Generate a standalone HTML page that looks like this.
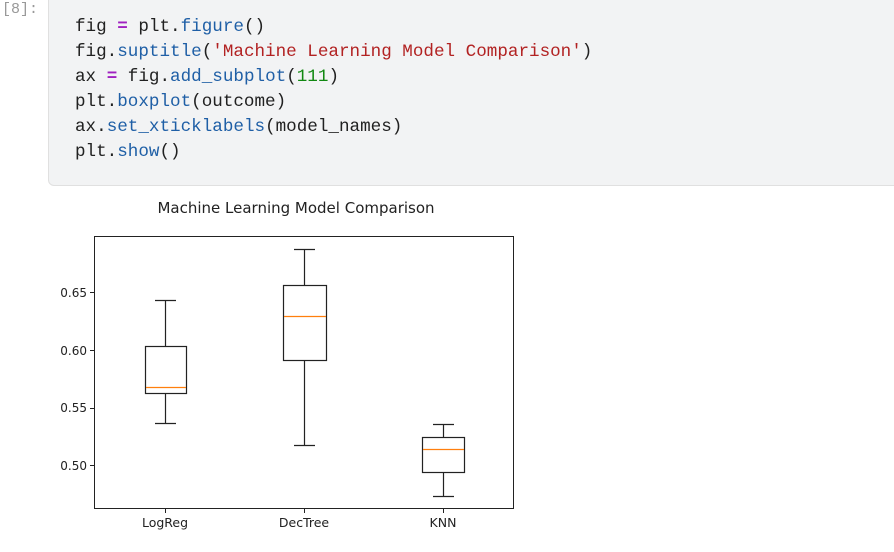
<!DOCTYPE html>
<html><head><style>
body{margin:0;width:894px;height:552px;background:#fff;position:relative;overflow:hidden;font-family:"Liberation Sans",sans-serif}
.prompt{position:absolute;left:2px;top:1px;font:15px "Liberation Mono",monospace;color:#999}
.cell{position:absolute;left:48px;top:-6px;width:860px;height:192px;background:#f2f3f4;border:1px solid #e0e0e0;border-radius:6px;box-sizing:border-box}
pre{position:absolute;left:75px;top:15px;margin:0;font:17.6px/25px "Liberation Mono",monospace;color:#212121}
.f{color:#1f5fa6}.s{color:#b22222}.n{color:#118811}.o{color:#a020c0;font-weight:bold}
</style></head><body>
<div class="prompt">[8]:</div>
<div class="cell"></div>
<pre>fig <span class="o">=</span> plt.<span class="f">figure</span>()
fig.<span class="f">suptitle</span>(<span class="s">'Machine Learning Model Comparison'</span>)
ax <span class="o">=</span> fig.<span class="f">add_subplot</span>(<span class="n">111</span>)
plt.<span class="f">boxplot</span>(outcome)
ax.<span class="f">set_xticklabels</span>(model_names)
plt.<span class="f">show</span>()</pre>
<svg width="894" height="552" style="position:absolute;left:0;top:0" font-family="DejaVu Sans, sans-serif" font-size="12" fill="#222">
<text x="296" y="213" text-anchor="middle" font-size="15">Machine Learning Model Comparison</text>
<rect x="94.5" y="236.5" width="419" height="272" fill="none" stroke="#222" stroke-width="1"/>
<g stroke="#222" stroke-width="1">
<line x1="90" y1="292.5" x2="94" y2="292.5"/><line x1="90" y1="350.5" x2="94" y2="350.5"/>
<line x1="90" y1="408.5" x2="94" y2="408.5"/><line x1="90" y1="465.5" x2="94" y2="465.5"/>
<line x1="165.5" y1="509" x2="165.5" y2="513"/><line x1="304.5" y1="509" x2="304.5" y2="513"/><line x1="443.5" y1="509" x2="443.5" y2="513"/>
</g>
<g font-size="12" text-anchor="end">
<text x="87" y="297">0.65</text><text x="87" y="355">0.60</text><text x="87" y="412">0.55</text><text x="87" y="470">0.50</text>
</g>
<g font-size="12.5" text-anchor="middle">
<text x="165" y="527">LogReg</text><text x="304" y="527">DecTree</text><text x="443" y="527">KNN</text>
</g>
<g stroke="#222" stroke-width="1.2" fill="none">
<rect x="145.5" y="346.5" width="41" height="47"/>
<line x1="165.5" y1="346" x2="165.5" y2="300.5"/><line x1="165.5" y1="394" x2="165.5" y2="423.5"/>
<line x1="155" y1="300.5" x2="176" y2="300.5"/><line x1="155" y1="423.5" x2="176" y2="423.5"/>
<rect x="283.5" y="285.5" width="43" height="75"/>
<line x1="304.5" y1="285" x2="304.5" y2="249.5"/><line x1="304.5" y1="361" x2="304.5" y2="445.5"/>
<line x1="294" y1="249.5" x2="315" y2="249.5"/><line x1="294" y1="445.5" x2="315" y2="445.5"/>
<rect x="422.5" y="437.5" width="42" height="35"/>
<line x1="443.5" y1="437" x2="443.5" y2="424.5"/><line x1="443.5" y1="473" x2="443.5" y2="496.5"/>
<line x1="433" y1="424.5" x2="454" y2="424.5"/><line x1="433" y1="496.5" x2="454" y2="496.5"/>
</g>
<g stroke="#ff7f0e" stroke-width="1.2">
<line x1="146" y1="387.5" x2="186" y2="387.5"/><line x1="284" y1="316.5" x2="326" y2="316.5"/><line x1="423" y1="449.5" x2="464" y2="449.5"/>
</g>
</svg>
</body></html>
